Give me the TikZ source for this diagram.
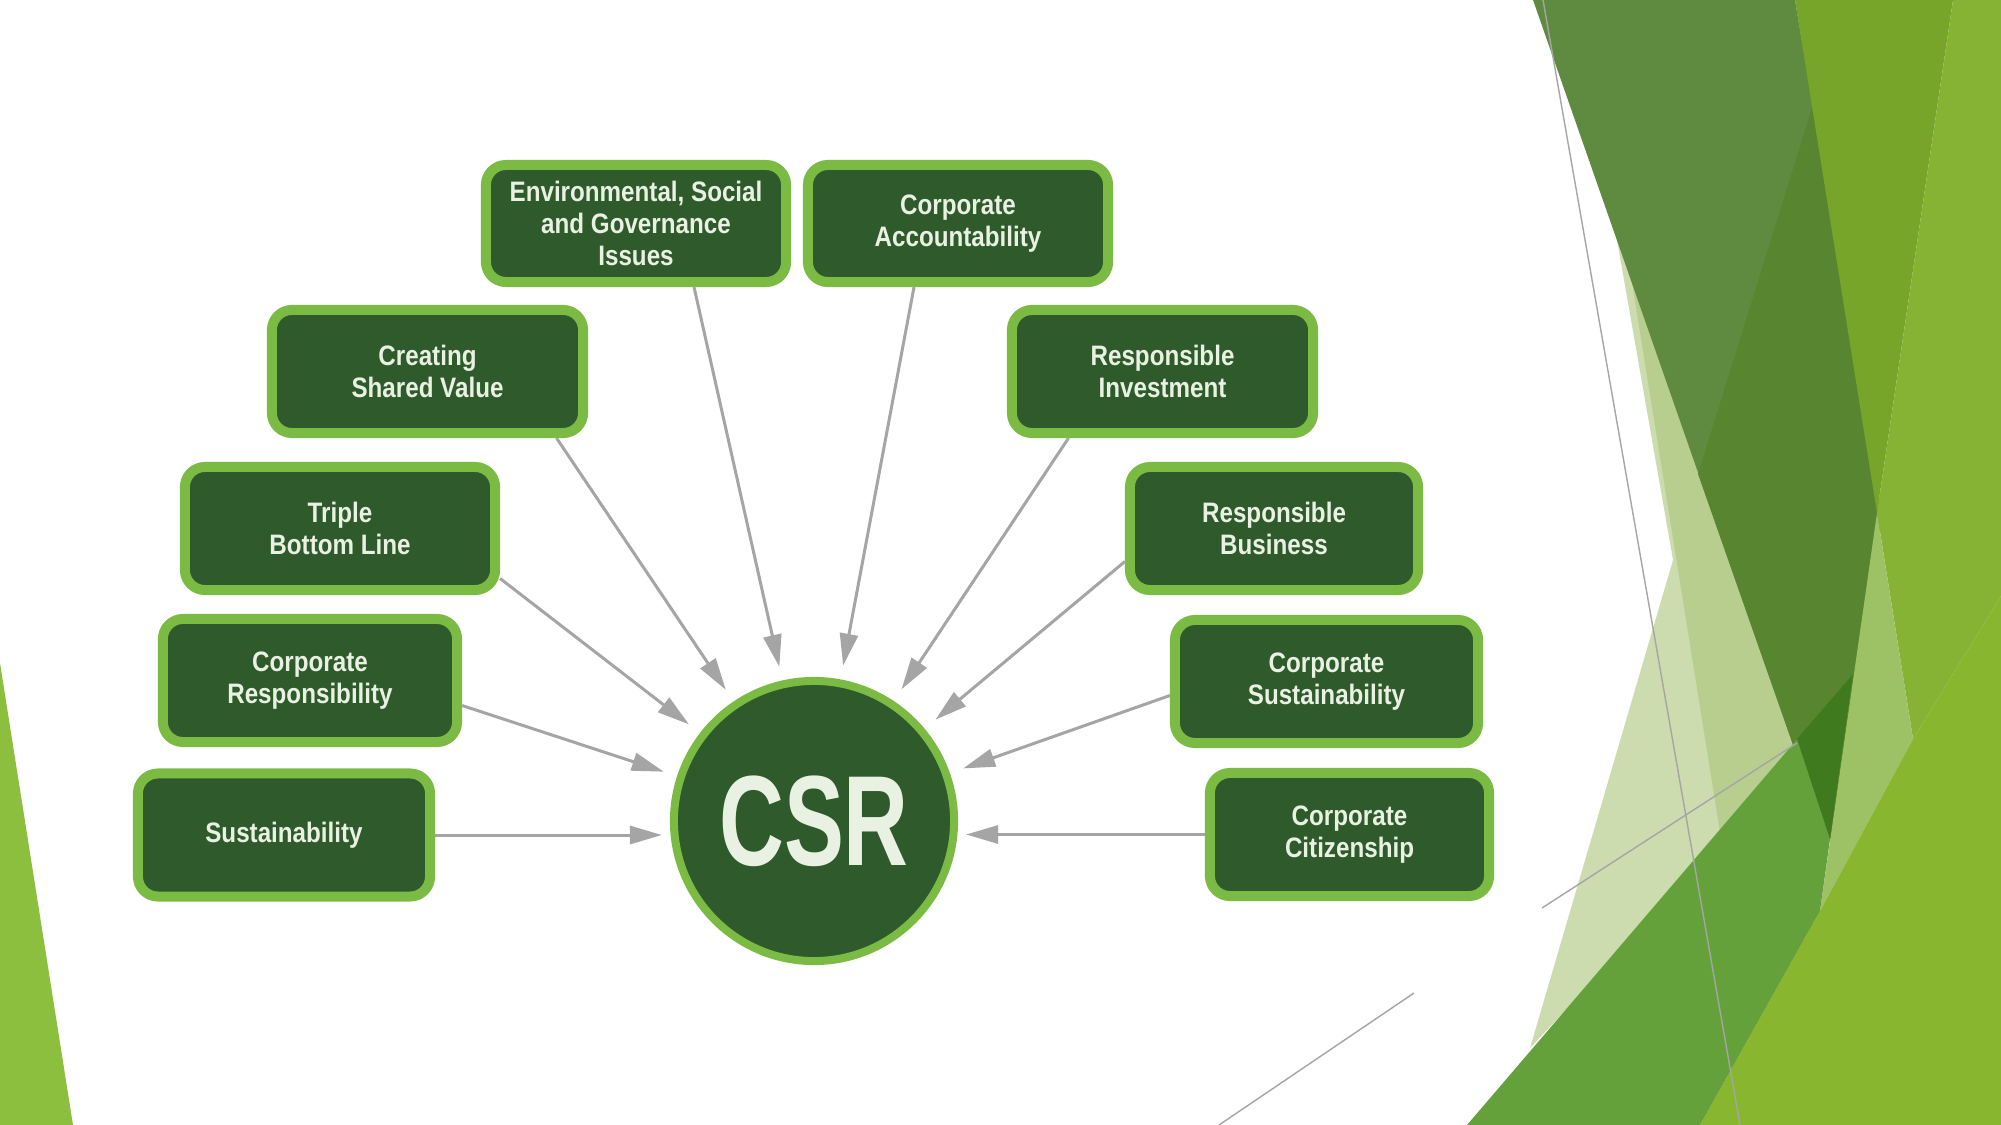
\documentclass[tikz,border=0pt]{standalone}
\usepackage{fontspec}
\newfontfamily\termfont{Liberation Sans}[FakeStretch=0.86]
\newfontfamily\hubfont{Liberation Sans}[FakeStretch=0.70]
\usetikzlibrary{calc,arrows.meta}
\definecolor{forest}{HTML}{2E5A2C}
\definecolor{leaf}{HTML}{7BBB44}
\definecolor{mint}{HTML}{E9F1E2}
\definecolor{arrowgray}{HTML}{A5A5A5}
\definecolor{lime}{HTML}{8DBF3F}
\definecolor{moss}{HTML}{5E8B40}
\definecolor{mossdark}{HTML}{58852F}
\definecolor{olive}{HTML}{77A52A}
\definecolor{grass}{HTML}{86B334}
\definecolor{sprout}{HTML}{9DC266}
\definecolor{bright}{HTML}{88B62E}
\definecolor{meadow}{HTML}{64A13A}
\definecolor{deep}{HTML}{3F7A1E}
\definecolor{pale}{HTML}{CCDCAE}
\definecolor{paledark}{HTML}{B8CE8E}

\begin{document}
\begin{tikzpicture}[x=0.01cm,y=-0.01cm,
    term/.style={draw=leaf,fill=forest,line width=0.1cm,rounded corners=0.2cm,
      minimum height=1.23cm,align=center,text=mint,
      font=\termfont\bfseries\fontsize{8}{9.2}\selectfont},
    feed/.style={draw=arrowgray,line width=0.03cm,
      -{Triangle[length=0.32cm,width=0.18cm]},shorten >=0.14cm}]

    \useasboundingbox (0,0) rectangle (2001,1125);

    % Hintergrund rechts
    \fill[pale] (1617,240) -- (1673,560) -- (1530,1048) -- (1800,760) -- cycle;
    \fill[paledark] (1630,270) -- (1720,832) -- (1800,760) -- cycle;
    \fill[moss] (1533,0) -- (1795,0) -- (1882,513) -- (1835,839) -- (1826,839) -- cycle;
    \fill[mossdark] (1698,474) -- (1812,108) -- (1882,513) -- (1835,839) -- (1826,839) -- cycle;
    \fill[olive] (1795,0) -- (1953,0) -- (1877,513) -- cycle;
    \fill[grass] (1953,0) -- (2001,0) -- (2001,596) -- (1913,739) -- (1877,513) -- cycle;
    \fill[sprout] (1877,513) -- (1913,739) -- (1820,911) -- cycle;
    \fill[bright] (2001,596) -- (2001,1125) -- (1700,1125) -- (1820,911) -- (1913,739) -- cycle;
    \fill[meadow] (1467,1125) -- (1853,674) -- (1820,911) -- (1700,1125) -- cycle;
    \fill[deep] (1797,739) -- (1853,674) -- (1830,839) -- cycle;

    % feine Linien
    \draw[arrowgray,line width=0.4pt] (1543,0) -- (1740,1125);
    \draw[arrowgray,line width=0.4pt] (1542,908) -- (1797,743);
    \draw[arrowgray,line width=0.4pt] (1414,993) -- (1219,1125);

    % Hintergrund links
    \fill[lime] (0,663) -- (73,1125) -- (0,1125) -- cycle;

    % Mitte
    \node[circle,draw=leaf,fill=forest,line width=0.08cm,minimum size=2.8cm,
      text=mint,font=\hubfont\bfseries\fontsize{36.5}{40}\selectfont] (csr) at (814,821) {CSR};

    % Begriffe
    \node[term,minimum width=3.00cm,minimum height=1.17cm] (esg) at (636,223.5) {Environmental, Social\\and Governance\\Issues};
    \node[term,minimum width=3.00cm,minimum height=1.17cm] (ca) at (958,223.5) {Corporate\\Accountability};
    \node[term,minimum width=3.11cm] (csv) at (427.5,371.5) {Creating\\Shared Value};
    \node[term,minimum width=3.01cm] (ri) at (1162.5,371.5) {Responsible\\Investment};
    \node[term,minimum width=3.10cm] (tbl) at (340,528.5) {Triple\\Bottom Line};
    \node[term,minimum width=2.88cm] (rb) at (1274,528.5) {Responsible\\Business};
    \node[term,minimum width=2.94cm] (cr) at (310,680.5) {Corporate\\Responsibility};
    \node[term,minimum width=3.03cm] (csus) at (1326.5,681.5) {Corporate\\Sustainability};
    \node[term,minimum width=2.92cm] (sus) at (284,835) {Sustainability};
    \node[term,minimum width=2.79cm] (cc) at (1349.5,834.5) {Corporate\\Citizenship};

    % Pfeile zur Mitte
    \draw[feed] ($(esg.south)+(58,0)$) -- (csr);
    \draw[feed] ($(ca.south)+(-44,0)$) -- (csr);
    \draw[feed] ($(csv.south)+(129,0)$) -- (csr);
    \draw[feed] ($(ri.south)+(-94,0)$) -- (csr);
    \draw[feed] ($(tbl.east)+(0,50)$) -- (csr);
    \draw[feed] ($(rb.west)+(0,33)$) -- (csr);
    \draw[feed] ($(cr.east)+(0,25)$) -- (csr);
    \draw[feed] ($(csus.west)+(0,14)$) -- (csr);
    \draw[feed,shorten >=0.08cm] (sus.east) -- (sus.east -| csr.west);
    \draw[feed,shorten >=0.08cm] (cc.west) -- (cc.west -| csr.east);
\end{tikzpicture}
\end{document}
